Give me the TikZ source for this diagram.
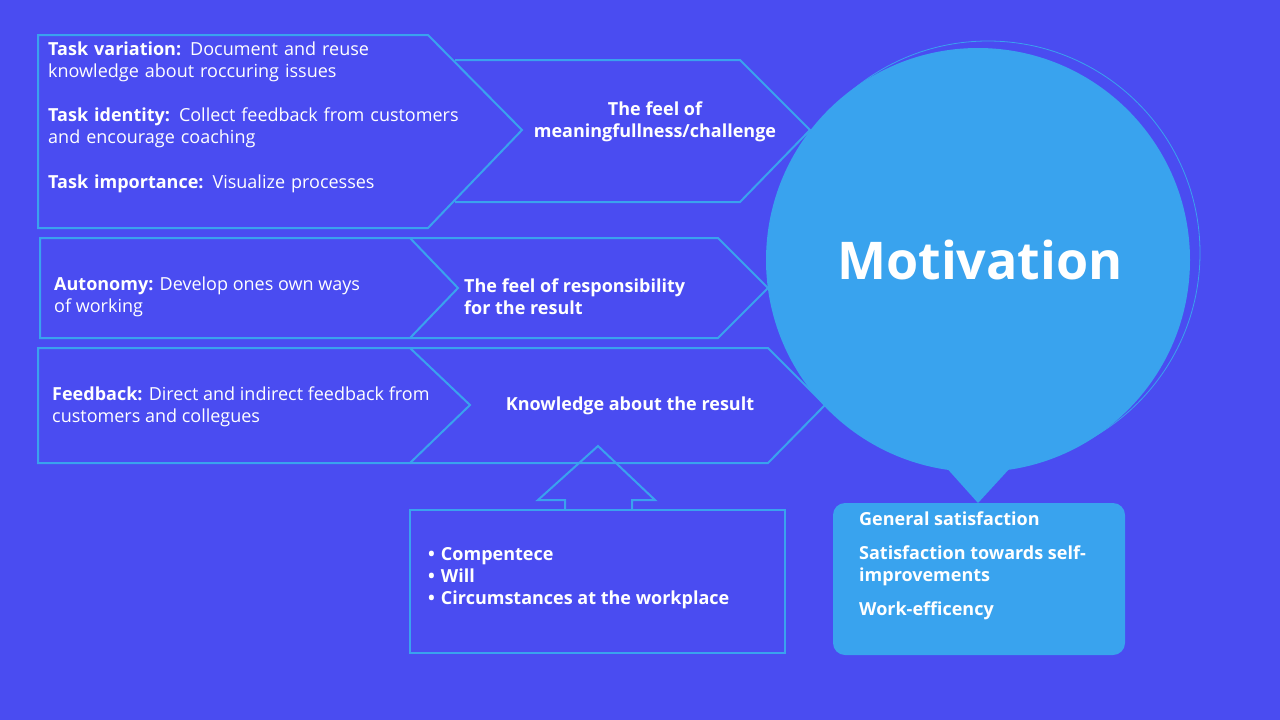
\documentclass[tikz,border=0pt]{standalone}
\usepackage{fontspec}
\setmainfont{Open Sans}
\usetikzlibrary{positioning}
\definecolor{bgblue}{HTML}{4A4CF1}
\definecolor{lineblue}{HTML}{3AA2EE}
\definecolor{fillblue}{HTML}{39A3EE}

\begin{document}
\begin{tikzpicture}[
        x=1pt, y=-1pt,
        chev/.style={draw=lineblue, line width=2pt, line join=miter},
        txt/.style={text=white, inner sep=0pt, align=left, font=\fontsize{18}{22}\selectfont},
        head/.style={txt, font=\fontsize{18}{22}\selectfont\bfseries}
    ]
    \fill[bgblue] (0,0) rectangle (1280,720);
    \useasboundingbox (0,0) rectangle (1280,720);

    % first row
    \draw[chev] (455,60) -- (740,60) -- (810,130) -- (740,202) -- (455,202);
    \draw[chev] (38,35) -- (428,35) -- (522,130) -- (428,228) -- (38,228) -- cycle;
    % second row
    \draw[chev] (40,238) -- (410,238) -- (458,288) -- (410,338) -- (40,338) -- cycle;
    \draw[chev] (410,238) -- (718,238) -- (768,288) -- (718,338) -- (410,338);
    % third row
    \draw[chev] (38,348) -- (410,348) -- (470,405) -- (410,463) -- (38,463) -- cycle;
    \draw[chev] (410,348) -- (768,348) -- (825,405) -- (768,463) -- (410,463);
    % up arrow and box
    \draw[chev] (410,510) rectangle (785,653);
    \draw[chev] (565,510) -- (565,500) -- (538,500) -- (598,446) -- (655,500) -- (632,500) -- (632,510);

    % motivation bubble
    \draw[lineblue, line width=0.8pt] (988,253) circle[radius=212];
    \fill[fillblue] (978,260) circle[radius=212];
    \fill[fillblue] (935,455) -- (978,503) -- (1022,455) -- cycle;
    \fill[fillblue, rounded corners=12pt] (833,503) rectangle (1125,655);

    \node[txt, anchor=north west, text width=430pt] (variation) at (48,42)
        {\textbf{Task variation:} Document and reuse\\knowledge about roccuring issues};
    \node[txt, anchor=north west, text width=430pt] (identity) at (48,108)
        {\textbf{Task identity:} Collect feedback from customers\\and encourage coaching};
    \node[txt, anchor=north west, text width=430pt] (importance) at (48,175)
        {\textbf{Task importance:} Visualize processes};
    \node[head, align=center] (meaning) at (655,122) {The feel of\\meaningfullness/challenge};

    \node[txt, anchor=west] (autonomy) at (54,297)
        {\textbf{Autonomy:} Develop ones own ways\\of working};
    \node[head, anchor=west] (responsibility) at (464,297)
        {The feel of responsibility\\for the result};

    \node[txt, anchor=west] (feedback) at (52,407)
        {\textbf{Feedback:} Direct and indirect feedback from\\customers and collegues};
    \node[head] (knowledge) at (630,406) {Knowledge about the result};

    \node[head, anchor=west] (factors) at (428,578)
        {\textbullet\hspace{6pt}Compentece\\\textbullet\hspace{6pt}Will\\\textbullet\hspace{6pt}Circumstances at the workplace};

    \node[txt, font=\fontsize{52}{60}\selectfont\bfseries] (motivation) at (980,260) {Motivation};
    \node[head, anchor=north west] (results) at (859,512)
        {General satisfaction\\[12pt]Satisfaction towards self-\\improvements\\[12pt]Work-efficency};
\end{tikzpicture}
\end{document}
